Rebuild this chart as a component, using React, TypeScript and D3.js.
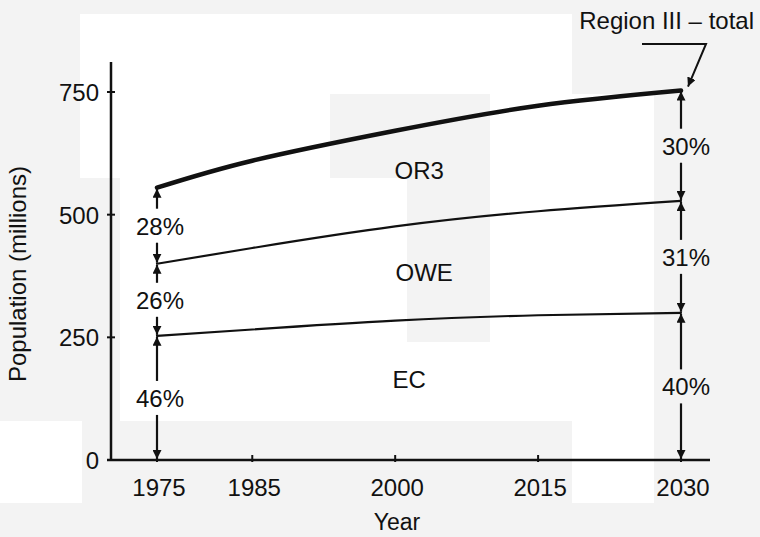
import React, { useEffect, useRef } from "react";
import * as d3 from "d3";

const years = [1975, 1985, 2000, 2015, 2030];
const ecValues = [253, 266, 284, 295, 300];
const owePlusEc = [400, 432, 476, 507, 528];
const totalValues = [555, 610, 671, 722, 753];
const yTicks = [0, 250, 500, 750];
const xTicks = [1975, 1985, 2000, 2015, 2030];
const shares1975 = ["46%", "26%", "28%"];
const shares2030 = ["40%", "31%", "30%"];
const regionNames = ["EC", "OWE", "OR3"];

const width = 760;
const height = 537;
const FONT = "'Liberation Sans', Arial, sans-serif";

// faint grey blocks of the scanned page
const paperBlocks = [
  [0, 0, 760, 14],
  [0, 14, 80, 407],
  [80, 178, 40, 243],
  [737, 14, 23, 523],
  [572, 14, 165, 80],
  [654, 94, 83, 409],
  [330, 94, 160, 84],
  [407, 178, 83, 164],
  [82, 421, 408, 82],
  [490, 421, 82, 82],
  [0, 503, 760, 34],
];

export default function App() {
  const svgRef = useRef<SVGSVGElement>(null);

  useEffect(() => {
    const svg = d3.select(svgRef.current);
    svg.selectAll("*").remove();

    const x = d3.scaleLinear().domain([1975, 2030]).range([157, 681]);
    const y = d3.scaleLinear().domain([0, 750]).range([460, 92]);

    svg.append("rect").attr("width", width).attr("height", height).attr("fill", "#fff");
    svg
      .selectAll(".paper")
      .data(paperBlocks)
      .enter()
      .append("rect")
      .attr("x", (d) => d[0])
      .attr("y", (d) => d[1])
      .attr("width", (d) => d[2])
      .attr("height", (d) => d[3])
      .attr("fill", "#f3f3f3");

    const defs = svg.append("defs");
    defs
      .append("marker")
      .attr("id", "head")
      .attr("viewBox", "0 0 10 10")
      .attr("refX", 10)
      .attr("refY", 5)
      .attr("markerWidth", 9)
      .attr("markerHeight", 9)
      .attr("markerUnits", "userSpaceOnUse")
      .attr("orient", "auto")
      .append("path")
      .attr("d", "M0,0L10,5L0,10Z")
      .attr("fill", "#111");

    const g = svg.append("g");

    // axes
    g.append("line")
      .attr("x1", 111).attr("x2", 111)
      .attr("y1", 62).attr("y2", y(0))
      .attr("stroke", "#111").attr("stroke-width", 2.5);
    g.append("line")
      .attr("x1", 107).attr("x2", 710)
      .attr("y1", y(0)).attr("y2", y(0))
      .attr("stroke", "#111").attr("stroke-width", 2.5);

    yTicks.forEach((t) => {
      g.append("line")
        .attr("x1", 107).attr("x2", 115)
        .attr("y1", y(t)).attr("y2", y(t))
        .attr("stroke", "#111").attr("stroke-width", 2);
      g.append("text")
        .attr("x", 99)
        .attr("y", y(t) + 9)
        .attr("text-anchor", "end")
        .attr("font-family", FONT)
        .attr("font-size", 24)
        .attr("fill", "#111")
        .text(t);
    });

    xTicks.forEach((t) => {
      g.append("line")
        .attr("x1", x(t)).attr("x2", x(t))
        .attr("y1", y(0) - 5).attr("y2", y(0) + 2)
        .attr("stroke", "#111").attr("stroke-width", 2);
      g.append("text")
        .attr("x", x(t) + 2)
        .attr("y", 496)
        .attr("text-anchor", "middle")
        .attr("font-family", FONT)
        .attr("font-size", 24)
        .attr("fill", "#111")
        .text(t);
    });

    g.append("text")
      .attr("x", 397)
      .attr("y", 530)
      .attr("text-anchor", "middle")
      .attr("font-family", FONT)
      .attr("font-size", 23)
      .attr("fill", "#111")
      .text("Year");

    g.append("text")
      .attr("transform", "translate(26,274) rotate(-90)")
      .attr("text-anchor", "middle")
      .attr("font-family", FONT)
      .attr("font-size", 24)
      .attr("fill", "#111")
      .text("Population (millions)");

    // curves
    const line = d3
      .line<number>()
      .x((_, i) => x(years[i]))
      .y((d) => y(d))
      .curve(d3.curveNatural);

    [
      { vals: ecValues, w: 2.2 },
      { vals: owePlusEc, w: 2.2 },
      { vals: totalValues, w: 4.5 },
    ].forEach((s) => {
      g.append("path")
        .attr("d", line(s.vals))
        .attr("fill", "none")
        .attr("stroke", "#111")
        .attr("stroke-width", s.w)
        .attr("stroke-linecap", "round");
    });

    // region labels
    const midIdx = 2;
    const bands = [
      [0, ecValues[midIdx]],
      [ecValues[midIdx], owePlusEc[midIdx]],
      [owePlusEc[midIdx], totalValues[midIdx]],
    ];
    const labelDx = [14, 29, 24];
    const labelDy = [-11, -2, -9];
    regionNames.forEach((name, i) => {
      const [lo, hi] = bands[i];
      g.append("text")
        .attr("x", x(2000) + labelDx[i])
        .attr("y", (y(lo) + y(hi)) / 2 + 9 + labelDy[i])
        .attr("text-anchor", "middle")
        .attr("font-family", FONT)
        .attr("font-size", 24)
        .attr("fill", "#111")
        .text(name);
    });

    // dimension arrows with percentage labels
    const drawColumn = (idx: number, labels: string[], dx: number) => {
      const cx = x(years[idx]);
      const bounds = [0, ecValues[idx], owePlusEc[idx], totalValues[idx]];
      labels.forEach((lab, i) => {
        const yb = y(bounds[i]);
        const yt = y(bounds[i + 1]);
        const mid = (yb + yt) / 2;
        const gap = 17;
        g.append("line")
          .attr("x1", cx).attr("x2", cx)
          .attr("y1", mid - gap).attr("y2", yt + 1)
          .attr("stroke", "#111").attr("stroke-width", 2.2)
          .attr("marker-end", "url(#head)");
        g.append("line")
          .attr("x1", cx).attr("x2", cx)
          .attr("y1", mid + gap).attr("y2", yb - 1)
          .attr("stroke", "#111").attr("stroke-width", 2.2)
          .attr("marker-end", "url(#head)");
        g.append("text")
          .attr("x", cx + dx)
          .attr("y", mid + 9)
          .attr("text-anchor", "middle")
          .attr("font-family", FONT)
          .attr("font-size", 24)
          .attr("fill", "#111")
          .text(lab);
      });
    };
    drawColumn(0, shares1975, 3);
    drawColumn(years.length - 1, shares2030, 5);

    // annotation
    const ax = x(2030) + 4;
    const ay = y(totalValues[totalValues.length - 1]) - 4;
    g.append("path")
      .attr("d", `M642,44L706,44L${ax + 3},${ay}`)
      .attr("fill", "none")
      .attr("stroke", "#111")
      .attr("stroke-width", 2)
      .attr("marker-end", "url(#head)");
    g.append("text")
      .attr("x", 754)
      .attr("y", 29)
      .attr("text-anchor", "end")
      .attr("font-family", FONT)
      .attr("font-size", 24)
      .attr("fill", "#111")
      .text("Region III \u2013 total");
  }, []);

  return (
    <svg
      ref={svgRef}
      width={width}
      height={height}
      style={{ position: "absolute", left: 0, top: 0 }}
    />
  );
}
